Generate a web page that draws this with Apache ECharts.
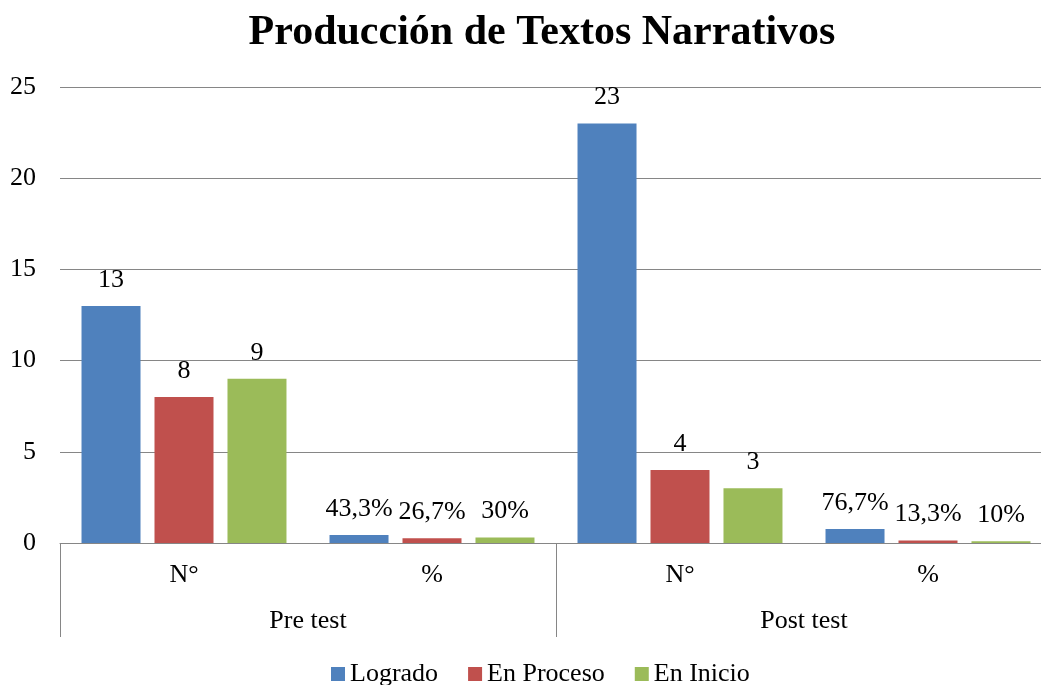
<!DOCTYPE html>
<html>
<head>
<meta charset="utf-8">
<script src="https://cdn.jsdelivr.net/npm/echarts@6/dist/echarts.min.js"></script>
<style>
  html, body { margin: 0; padding: 0; background: #fff; overflow: hidden; }
  #chart { width: 1052px; height: 685px; }
</style>
</head>
<body>
<div id="chart"></div>
<script>
// categories
const subCategories = ['N°', '%', 'N°', '%']
const groups = ['Pre test', 'Post test']
const seriesNames = ['Logrado', 'En Proceso', 'En Inicio']
// values: count, share (fraction), count, share
const logrado = [13, 0.433, 23, 0.767]
const enProceso = [8, 0.267, 4, 0.133]
const enInicio = [9, 0.30, 3, 0.10]
const colors = ['#4F81BD', '#C0504D', '#9BBB59']

const font = 'Liberation Serif, Times New Roman, serif'

function fmtLabel(p) {
  if (p.dataIndex % 2 === 1) {
    // percentage rows: show as 43,3%
    let s = (p.value * 100).toFixed(1)
    if (s.endsWith('.0')) s = s.slice(0, -2)
    return s.replace('.', ',') + '%'
  }
  return p.value
}

// the plot runs a bit past the right edge of the window, like the original
const chart = echarts.init(document.getElementById('chart'))
const seriesData = [logrado, enProceso, enInicio]

chart.setOption({
  animation: false,
  textStyle: { fontFamily: font },
  title: {
    text: 'Producción de Textos Narrativos',
    left: 537,
    top: 7,
    textAlign: 'center',
    textStyle: { fontFamily: font, fontSize: 42, fontWeight: 'bold', color: '#000' }
  },
  legend: {
    data: seriesNames,
    top: 656,
    left: 326,
    itemWidth: 14,
    itemHeight: 14,
    itemGap: 30,
    icon: 'rect',
    textStyle: { fontFamily: font, fontSize: 26, color: '#000' }
  },
  grid: {
    left: 60,
    right: 0,
    top: 87,
    bottom: 142
  },
  xAxis: [
    {
      type: 'category',
      data: subCategories,
      axisLine: { lineStyle: { color: '#868686', width: 1 } },
      axisTick: { show: false },
      axisLabel: { fontFamily: font, fontSize: 26, color: '#000', margin: 19 }
    },
    {
      type: 'category',
      data: groups,
      position: 'bottom',
      axisLine: { show: false },
      axisTick: { show: true, length: 94, lineStyle: { color: '#868686', width: 1 } },
      axisLabel: { fontFamily: font, fontSize: 26, color: '#000', margin: 65 }
    }
  ],
  yAxis: {
    type: 'value',
    min: 0,
    max: 25,
    interval: 5,
    axisLine: { show: false },
    axisTick: { show: false },
    splitLine: { lineStyle: { color: '#868686', width: 1 } },
    axisLabel: { fontFamily: font, fontSize: 26, color: '#000', margin: 24 }
  },
  series: seriesNames.map((name, i) => ({
    name: name,
    type: 'bar',
    xAxisIndex: 0,
    data: seriesData[i],
    barWidth: 59,
    barGap: '23.7%',
    itemStyle: { color: colors[i] },
    label: {
      show: true,
      position: 'top',
      distance: 13,
      fontFamily: font,
      fontSize: 26,
      color: '#000',
      formatter: fmtLabel
    }
  }))
})
</script>
</body>
</html>
